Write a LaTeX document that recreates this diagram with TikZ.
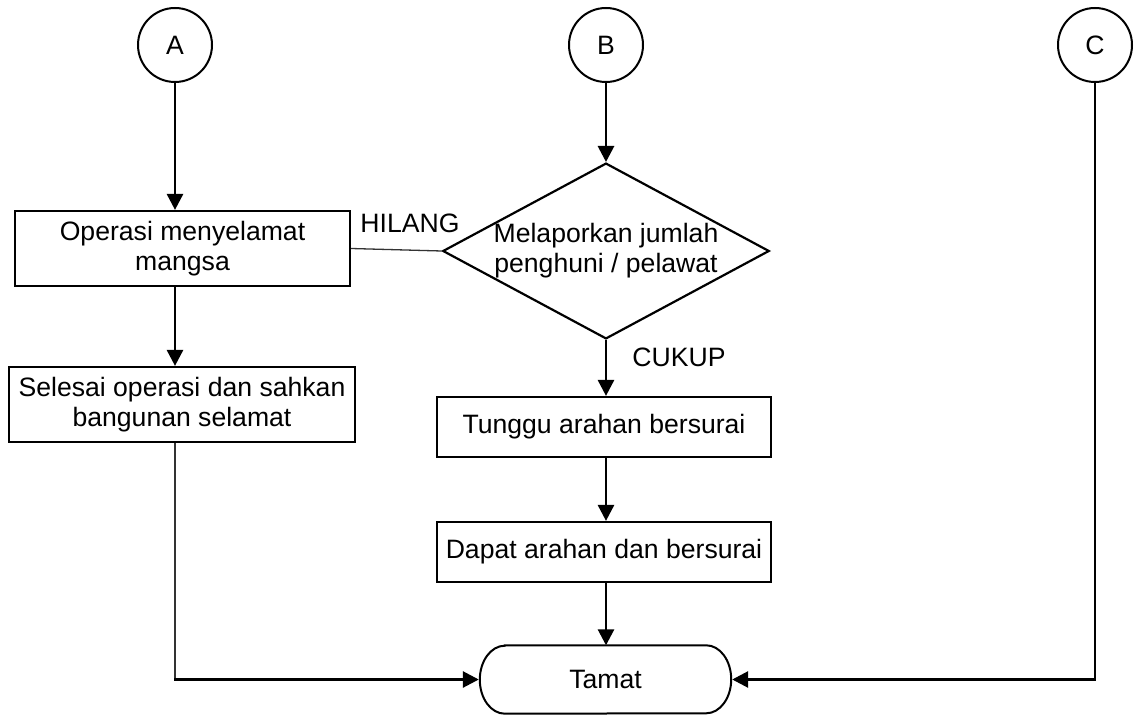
\documentclass[tikz,border=0pt]{standalone}
\usepackage{fontspec}
\setmainfont{Liberation Sans}
\usetikzlibrary{arrows.meta,shapes.geometric}
\begin{document}
\begin{tikzpicture}[x=1pt,y=-1pt,
  every node/.style={font=\fontsize{26.6}{30}\selectfont, inner sep=0pt},
  conn/.style={draw=black, circle, line width=2pt, minimum size=74pt},
  stepbox/.style={draw=black, rectangle, line width=2.2pt, align=center},
  decision/.style={draw=black, diamond, aspect=1.857, line width=2.2pt,
    minimum width=325pt, minimum height=175pt, align=center},
  flow/.style={line width=2.8pt, -{Triangle[length=16pt, width=16pt]}},
  thinline/.style={line width=1.3pt, draw=black!80}
]
\useasboundingbox (0,0) rectangle (1136,719);

% connectors at the top
\node[conn] (A) at (175,45) {A};
\node[conn] (B) at (606,45) {B};
\node[conn] (C) at (1095,45) {C};

% left column
\node[stepbox, minimum width=335pt, minimum height=75pt] (op) at (182.5,248.5)
  {Operasi menyelamat\\mangsa};
\node[stepbox, minimum width=346pt, minimum height=75pt] (done) at (182,404.5)
  {Selesai operasi dan sahkan\\bangunan selamat};

% middle column
\node[decision] (count) at (606,251) {Melaporkan jumlah\\penghuni / pelawat};
\node[stepbox, minimum width=334pt, minimum height=60pt] (wait) at (604,427)
  {Tunggu arahan bersurai};
\node[stepbox, minimum width=334pt, minimum height=60pt] (go) at (604,552)
  {Dapat arahan dan bersurai};

% terminator
\node[minimum width=251pt, minimum height=68pt] (end) at (605.5,679.5) {Tamat};
\draw[line width=2pt]
  ([xshift=25pt]end.north west) -- ([xshift=-25pt]end.north east)
  arc[start angle=90, end angle=-90, x radius=25pt, y radius=34pt]
  -- ([xshift=25pt]end.south west)
  arc[start angle=270, end angle=90, x radius=25pt, y radius=34pt] -- cycle;

% branch labels
\node (hilang) at (410,223) {HILANG};
\node (cukup) at (679,357) {CUKUP};

% flow
\draw[flow] (A.south) -- (A.south |- op.north);
\draw[flow] (A.south |- op.south) -- (A.south |- done.north);
\draw[flow] (B.south) -- (count.north);
\draw[flow] (count.south) -- (count.south |- wait.north);
\draw[flow] (count.south |- wait.south) -- (count.south |- go.north);
\draw[flow] (count.south |- go.south) -- (count.south |- end.north);
\draw[thinline] (op.east) -- (count.west);

\coordinate (lcorner) at (A.south |- end.west);
\coordinate (rcorner) at (C.south |- end.east);
\draw[thinline] (A.south |- done.south) -- (lcorner);
\draw[flow] ([xshift=-0.6pt]lcorner) -- ([xshift=-1pt]end.west);
\draw[line width=1.8pt] (C.south) -- (rcorner);
\draw[flow] ([xshift=0.9pt]rcorner) -- ([xshift=1pt]end.east);
\end{tikzpicture}
\end{document}
